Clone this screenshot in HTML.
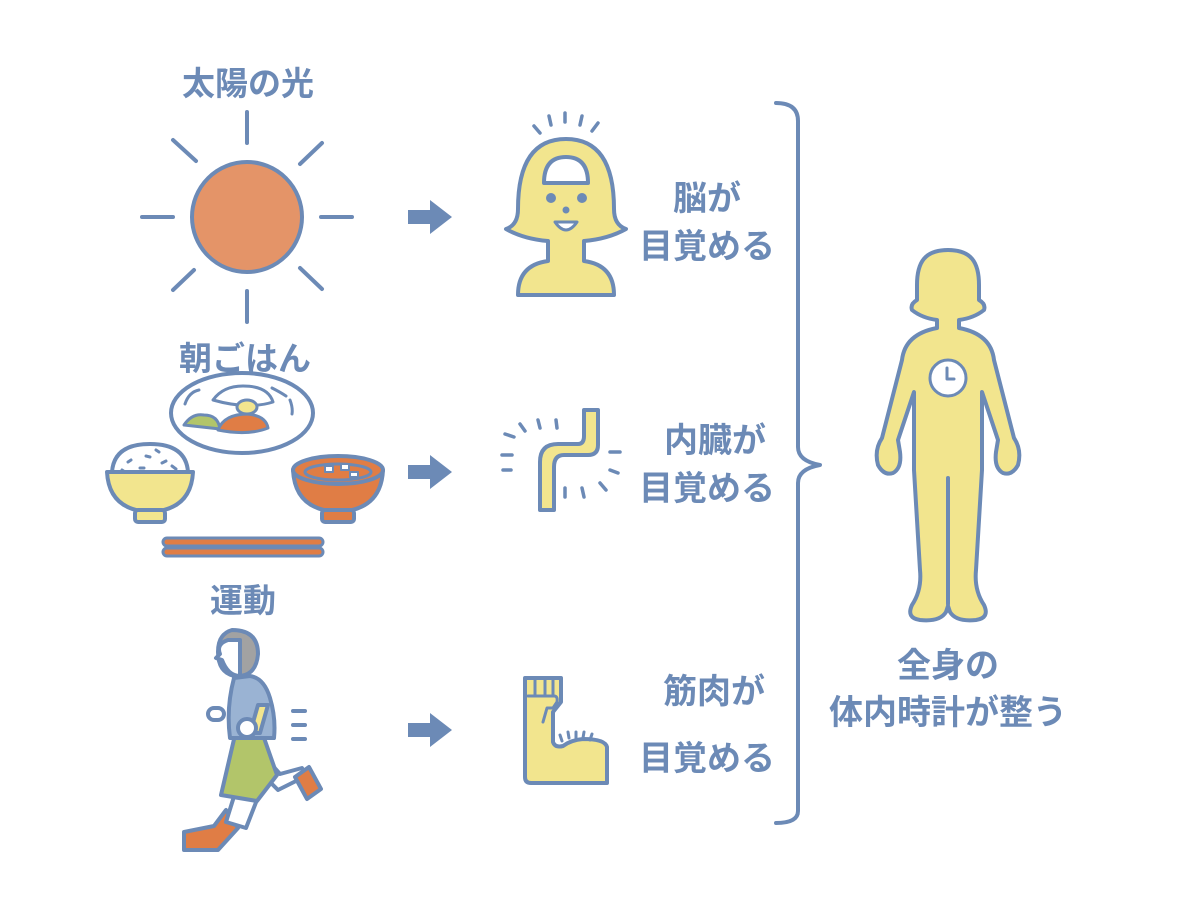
<!DOCTYPE html>
<html><head><meta charset="utf-8"><style>
html,body{margin:0;padding:0;background:#fff;}
svg{display:block}
text{font-family:"Liberation Sans","Noto Sans CJK JP",sans-serif;fill:#6c8ab6;font-weight:bold}
</style></head><body>
<svg width="1179" height="913" viewBox="0 0 1179 913" xmlns="http://www.w3.org/2000/svg">
<g stroke="#6c8ab6" stroke-linecap="round" stroke-linejoin="round" fill="none" stroke-width="4">
<!-- sun -->
<circle cx="247" cy="217" r="55" fill="#e49468"/>
<line x1="247" y1="112" x2="247" y2="143"/><line x1="247" y1="291" x2="247" y2="322"/>
<line x1="142" y1="217" x2="173" y2="217"/><line x1="321" y1="217" x2="352" y2="217"/>
<line x1="173" y1="140" x2="196" y2="161"/><line x1="322" y1="143" x2="300" y2="164"/>
<line x1="173" y1="290" x2="194" y2="270"/><line x1="322" y1="289" x2="300" y2="268"/>
<!-- arrows -->
<g fill="#6c8ab6" stroke="none">
<path d="M408 210h22v-10l22 17-22 17v-10h-22z"/>
<path d="M408 465h22v-10l22 17-22 17v-10h-22z"/>
<path d="M408 723h22v-10l22 17-22 17v-10h-22z"/>
</g>
<!-- food: plate -->
<ellipse cx="242" cy="413" rx="71" ry="40" fill="#fff"/>
<path d="M185 404q4-12 14-14M290 400q3 8 2 14M272 388q8 4 14 8" stroke-width="3"/>
<path d="M213 400q10-14 30-14 25 0 30 16 -25 8 -60 -2z" fill="#fff" stroke-width="3"/>
<ellipse cx="247" cy="407" rx="10" ry="7" fill="#f2e58e" stroke-width="3"/>
<path d="M184 425q8-12 20-10 14 0 16 14z" fill="#b2c56a" stroke-width="3"/>
<path d="M218 430q6-16 30-16 18 2 20 14 -20 8 -50 2z" fill="#e07d45" stroke-width="3"/>
<!-- rice bowl -->
<path d="M112 472q2-28 38-28 36 0 38 28z" fill="#fff"/>
<path d="M107 472q2 38 43 40 41-2 43-40z" fill="#f2e58e"/>
<rect x="135" y="510" width="30" height="12" rx="3" fill="#f2e58e"/>
<g stroke-width="3"><line x1="128" y1="462" x2="131" y2="460"/><line x1="146" y1="456" x2="150" y2="457"/><line x1="162" y1="463" x2="166" y2="461"/><line x1="140" y1="468" x2="144" y2="468"/><line x1="172" y1="466" x2="176" y2="469"/><line x1="122" y1="470" x2="125" y2="472"/><line x1="156" y1="450" x2="159" y2="452"/></g>
<!-- miso bowl -->
<path d="M293 470q2 40 45 42 43-2 45-42z" fill="#e07d45"/>
<ellipse cx="338" cy="470" rx="45" ry="14" fill="#e07d45"/>
<ellipse cx="338" cy="472" rx="33" ry="8" fill="#e07d45" stroke-width="3"/>
<rect x="325" y="466" width="8" height="6" fill="#fff" stroke-width="2"/><rect x="341" y="464" width="8" height="6" fill="#fff" stroke-width="2"/><rect x="350" y="472" width="8" height="5" fill="#fff" stroke-width="2"/>
<rect x="322" y="510" width="32" height="12" rx="3" fill="#e07d45"/>
<!-- chopsticks -->
<rect x="163" y="538" width="160" height="8" rx="4" fill="#e07d45" stroke-width="3"/>
<rect x="163" y="548" width="160" height="8" rx="4" fill="#e07d45" stroke-width="3"/>
<!-- runner -->
<path d="M226 810l-12 16-30 6 0 18 34 0 20-22z" fill="#e07d45"/>
<path d="M236 790l-10 32 20 6 14-36z" fill="#fff"/>
<path d="M258 770l20 20 20 -10 10 -2 -6 -10 -22 6 -16-18z" fill="#fff"/>
<path d="M295 777l14-10 12 22 -14 10z" fill="#e07d45"/>
<path d="M235 735l-14 60 36 6 20-26-14-40z" fill="#b2c56a"/>
<path d="M234 678q-8 30-4 60h44q2-20-4-40 -6-20-20-22z" fill="#9ab3d3"/>
<rect x="208" y="708" width="16" height="12" rx="6" fill="#fff"/>
<path d="M258 705l10 0 -8 28 -10 0z" fill="#f2e58e"/>
<circle cx="247" cy="728" r="9" fill="#fff"/>
<path d="M232 630q-14 4-14 22 0 20 16 24 22 2 24-22 0-24-26-24z" fill="#a2a2a2"/>
<path d="M228 640q-12 4-8 14l-4 4 6 2q6 16 18 16l0-36z" fill="#fff"/>
<line x1="293" y1="711" x2="305" y2="711"/><line x1="293" y1="725" x2="305" y2="725"/><line x1="293" y1="739" x2="305" y2="739"/>
<!-- head -->
<g stroke-width="3.5">
<line x1="534" y1="126" x2="540" y2="133"/><line x1="549" y1="116" x2="551" y2="125"/><line x1="565" y1="113" x2="565" y2="122"/><line x1="582" y1="116" x2="580" y2="125"/><line x1="598" y1="123" x2="592" y2="131"/>
</g>
<path d="M518 295q0-30 30-34l0-20q-24-2-42-12 12-4 12-20 0-70 48-70 48 0 48 70 0 16 12 20 -18 10-42 12l0 20q30 4 30 34z" fill="#f2e58e"/>
<path d="M544 183q0-26 22-26 22 0 22 26z" fill="#fff"/>
<circle cx="551" cy="198" r="3" fill="#6c8ab6"/><circle cx="582" cy="198" r="3" fill="#6c8ab6"/><circle cx="566" cy="210" r="1.5" fill="#6c8ab6"/>
<path d="M555 222q11 16 22 0z" fill="#fff" stroke-width="3"/>
<!-- stomach -->
<path d="M584 410l14 0 0 35q0 10-10 10h-24q-10 0-10 12v43h-14v-48q0-18 18-18h20q6 0 6-8z" fill="#f2e58e"/>
<g stroke-width="3.5">
<line x1="505" y1="434" x2="514" y2="437"/><line x1="520" y1="424" x2="525" y2="431"/><line x1="538" y1="420" x2="540" y2="428"/><line x1="556" y1="420" x2="557" y2="428"/>
<line x1="502" y1="455" x2="512" y2="455"/><line x1="503" y1="470" x2="511" y2="470"/>
<line x1="610" y1="452" x2="620" y2="452"/><line x1="610" y1="470" x2="618" y2="473"/><line x1="600" y1="483" x2="606" y2="490"/>
<line x1="565" y1="488" x2="565" y2="497"/><line x1="582" y1="488" x2="584" y2="497"/>
</g>
<!-- arm -->
<path d="M525 700l0-22 36 0 0 24-8 10 0 30q2 6 10 4 8-6 20-7 22 0 24 8v36h-76q-6 0-6-6v-55z" fill="#f2e58e"/>
<line x1="535" y1="678" x2="535" y2="695" stroke-width="3"/><line x1="545" y1="678" x2="545" y2="695" stroke-width="3"/><line x1="553" y1="678" x2="553" y2="695" stroke-width="3"/>
<path d="M528 696h26q4 0 3 6l-4 6h-6l-4 14" stroke-width="3"/>
<g stroke-width="3"><line x1="560" y1="735" x2="562" y2="741"/><line x1="568" y1="732" x2="569" y2="738"/><line x1="576" y1="732" x2="576" y2="738"/><line x1="584" y1="732" x2="583" y2="738"/><line x1="592" y1="734" x2="590" y2="740"/></g>
<!-- brace -->
<path d="M776 103q22 0 22 18v326q0 14 22 18 -22 4-22 18v328q0 12-22 12" stroke-width="4"/>
<!-- body -->
<path d="M948 250C925 250 917 262 917 285L917 300Q910 304 912 310Q922 318 937 320L937 328Q905 334 902 360L882 438Q874 450 878 465Q884 476 893 473Q902 468 900 452L898 440L914 392L914 470L920 570Q922 590 912 605Q906 618 920 620Q940 622 946 612L948 606L950 612Q956 622 976 620Q990 618 984 605Q974 590 976 570L982 470L982 392L998 440L996 452Q994 468 1003 473Q1012 476 1018 465Q1022 450 1014 438L994 360Q991 334 959 328L959 320Q974 318 984 310Q986 304 979 300L979 285C979 262 971 250 948 250Z" fill="#f2e58e"/>
<line x1="948" y1="478" x2="948" y2="604"/>
<circle cx="948" cy="378" r="18" fill="#fff" stroke-width="3"/>
<path d="M947 368v11h7" stroke-width="3"/>
</g>
<text x="248" y="95" font-size="33" text-anchor="middle">太陽の光</text>
<text x="245" y="370" font-size="33" text-anchor="middle">朝ごはん</text>
<text x="243" y="612" font-size="33" text-anchor="middle">運動</text>
<text x="707" y="210" font-size="34" text-anchor="middle">脳が</text>
<text x="707" y="258" font-size="34" text-anchor="middle">目覚める</text>
<text x="715" y="452" font-size="34" text-anchor="middle">内臓が</text>
<text x="707" y="500" font-size="34" text-anchor="middle">目覚める</text>
<text x="714" y="703" font-size="34" text-anchor="middle">筋肉が</text>
<text x="707" y="770" font-size="34" text-anchor="middle">目覚める</text>
<text x="948" y="677" font-size="34" text-anchor="middle">全身の</text>
<text x="948" y="724" font-size="34" text-anchor="middle">体内時計が整う</text>
</svg>
</body></html>
